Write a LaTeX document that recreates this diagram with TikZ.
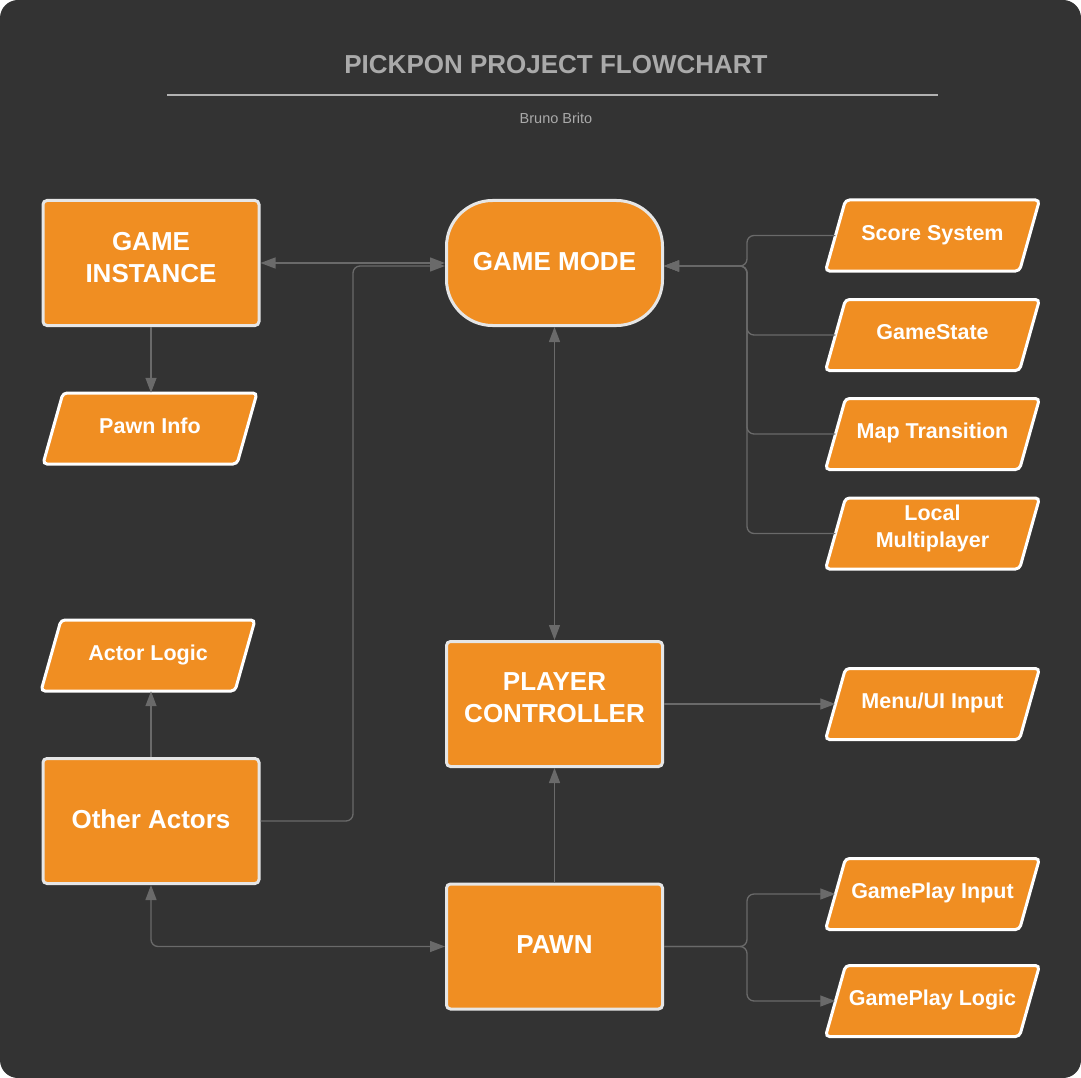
\documentclass[tikz,border=0pt]{standalone}
\usepackage{fontspec}
\setmainfont{Liberation Sans}
\usetikzlibrary{arrows.meta}
\definecolor{bgc}{HTML}{333333}
\definecolor{orng}{HTML}{F08E22}
\definecolor{rimc}{HTML}{E6E6E6}
\definecolor{linec}{HTML}{6A6A6A}
\definecolor{titlec}{HTML}{AAAAAA}
\newcommand\ioparallel[5][]{% [extra] name, x, y, text
  \draw[ioshape] ({#3-107},{#4+35.5}) -- ({#3-87},{#4-35.5}) -- ({#3+107},{#4-35.5})
     -- ({#3+87},{#4+35.5}) -- cycle;
  \node[iotext,#1] (#2) at (#3,#4) {#5};}
\begin{document}
\begin{tikzpicture}[x=1pt,y=-1pt,
  boxbig/.style={draw=rimc, fill=orng, line width=3pt, rounded corners=4pt,
    minimum width=216pt, minimum height=125pt, text=white, align=center,
    font=\bfseries\fontsize{26}{32}\selectfont, inner sep=2pt},
  oneline/.style={text height=20pt, text depth=5.4pt},
  twoline/.style={text depth=12pt},
  roundbox/.style={boxbig, oneline, rounded corners=46pt},
  ioshape/.style={draw=white, fill=orng, line width=3pt, rounded corners=4pt},
  iotext/.style={minimum width=194pt, minimum height=71pt, inner sep=1pt,
    text=white, align=center, font=\bfseries\fontsize{21.5}{27}\selectfont},
  iosingle/.style={text height=16pt, text depth=6.6pt},
  conn/.style={draw=linec, line width=1.3pt, rounded corners=7pt},
  arr/.style={conn, -{Triangle[length=15pt,width=11pt]}},
  arrb/.style={conn, {Triangle[length=15pt,width=11pt]}-{Triangle[length=15pt,width=11pt]}}
]
\useasboundingbox (0,0) rectangle (1081,1078);
\fill[white] (0,0) rectangle (1081,1078);
\fill[bgc, rounded corners=18pt] (0,0) rectangle (1081,1078);

% title
\node[text=titlec, font=\bfseries\fontsize{26}{30}\selectfont] (title) at (556,65) {PICKPON PROJECT FLOWCHART};
\draw[draw=titlec!90!white, line width=2pt] (167,95) coordinate (tl) -- (938,95) coordinate (tr);
\node[text=titlec, font=\fontsize{14.5}{17}\selectfont] (author) at (556,118) {Bruno Brito};

% main boxes
\node[boxbig, twoline] (GI) at (151,263) {GAME\\INSTANCE};
\node[roundbox] (GM) at (554.5,263) {GAME MODE};
\node[boxbig, twoline] (PC) at (554.5,704) {PLAYER\\CONTROLLER};
\node[boxbig, oneline] (PAWN) at (554.5,946.5) {PAWN};
\node[boxbig, oneline] (OA) at (151,821) {Other Actors};

% io boxes
\ioparallel[iosingle]{PI}{150}{428.5}{Pawn Info}
\ioparallel[iosingle]{AL}{148}{655.5}{Actor Logic}
\ioparallel[iosingle]{SS}{932.5}{235.5}{Score System}
\ioparallel[iosingle]{GS}{932.5}{335}{GameState}
\ioparallel[iosingle]{MT}{932.5}{434}{Map Transition}
\ioparallel[text depth=14pt]{LM}{932.5}{533.5}{Local\\Multiplayer}
\ioparallel[iosingle]{MU}{932.5}{704}{Menu/UI Input}
\ioparallel[iosingle]{GPI}{932.5}{894}{GamePlay Input}
\ioparallel[iosingle]{GPL}{932.5}{1001}{GamePlay Logic}

% connectors
\draw[arrb] (GI.east) -- (GM.west);
\draw[arr] (OA.east) -- (353,821) -- (353,266) -- (GM.west |- 0,266);
\draw[arr] (GI.south) -- (GI.south |- PI.north);
\draw[arr] (OA.north) -- (OA.north |- AL.south);
\draw[arrb] (GM.south) -- (PC.north);
\draw[arr] (PAWN.north) -- (PC.south);
\draw[arr] (PC.east) -- (MU.west);
\draw[arrb] (OA.south) |- (PAWN.west);
\foreach \n in {SS,GS,MT,LM}{
  \draw[arr] (\n.west) -| (747,266) -- (GM.east |- 0,266);
}
\draw[arr] (PAWN.east) -- (PAWN.east -| 747,0) |- (GPI.west);
\draw[arr] (PAWN.east) -- (PAWN.east -| 747,0) |- (GPL.west);
\end{tikzpicture}
\end{document}
